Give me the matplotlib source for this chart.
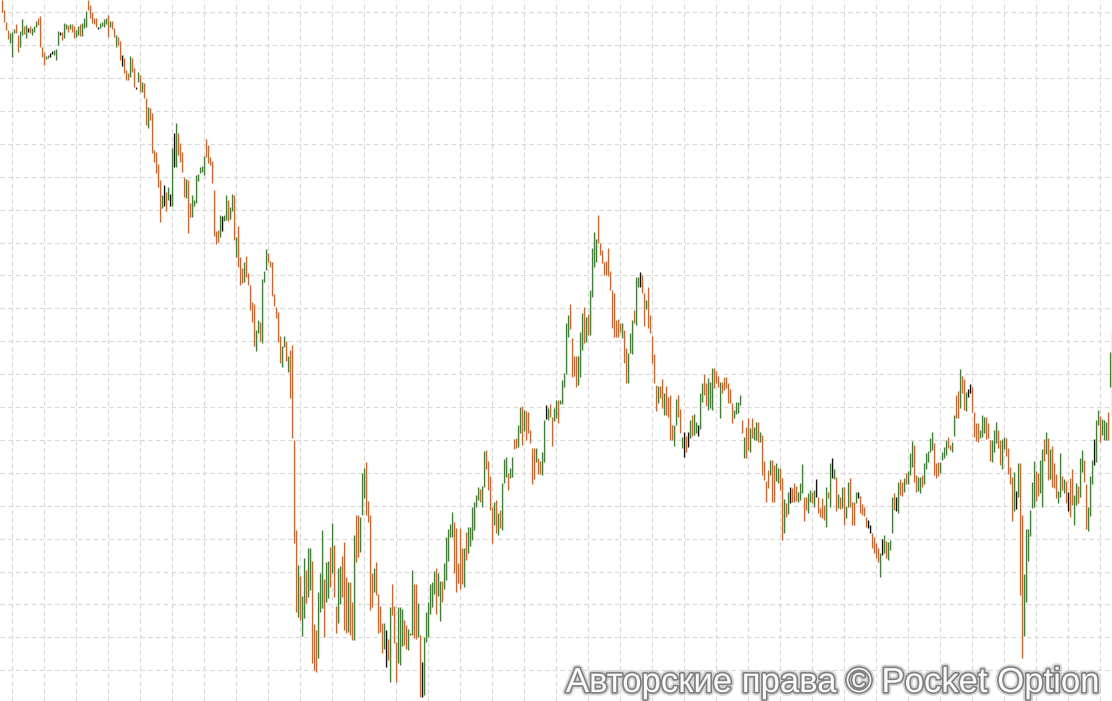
import matplotlib
matplotlib.use("Agg")
import matplotlib.pyplot as plt
import matplotlib.patheffects as pe
import numpy as np

# price levels (arbitrary points, higher = higher price)
# direction per bar: u = close above open, d = close below open, n = unchanged
highs_a = [700,690,678,670,667,668,671,676,665,669, 681,674,675,672,674,672,674,679,682,684,
           653,648,644,645,647,649,650,651,669,668, 668,677,676,675,676,676,674,670,674,676,
           677,682,689,700,695,688,682,682,673,677, 678,681,682,685,679,679,672,665,663,659,
           645,642,630,627,644,642,632,613,628,625, 618,617,602,593,592,587]
lows_a = [688,678,670,661,657,643,667,667,648,653, 665,666,662,668,667,665,668,673,675,653,
          643,635,641,642,643,646,645,640,655,665, 660,662,671,668,671,668,662,663,665,664,
          664,672,673,690,682,677,676,673,671,672, 674,673,676,663,673,671,663,653,655,640,
          634,627,620,620,623,628,613,611,618,608, 608,602,575,572,580,547]
dirs_a = "dddduuuddu" "udunduuudd" "dduunnuuun" "duududduud" "uuudddddnu" "uuududdudd" "nddduddnud" "uddudd"

highs_b = [550,548,536,520,505,515,508,513,506,552, 567,577,567,557,548,523,521,520,497,505,
           500,525,526,533,534,544,561,555,543,539, 510,469,470,485,484,485,505,500,493,506,
           505,463,474,443,432,438,444,427,415,398, 396,370,380,378,421,429,451,447,439,438,
           406,393,388,364,354,364,359,344,350,355]
lows_b = [538,527,513,478,492,494,489,500,494,494, 533,533,545,538,528,503,502,467,483,483,
          494,497,519,527,528,525,543,537,535,517, 464,456,458,463,469,479,480,479,481,489,
          460,443,433,415,417,418,423,415,390,378, 354,349,367,359,357,418,430,438,433,404,
          394,382,358,337,333,353,339,328,302,262]
dirs_b = "ddddundunu" "nudddduddu" "uuuuuudddd" "dddunuuduu" "dudddudddd" "duuduuuddd" "dddduududd"

highs_c = [260,170,135,124,104,142,130,152,152,139, 76,70,108,127,170,121,138,139,153,177,
           155,94,132,134,144,158,123,118,118,98, 165,185,185,183,227,232,238,199,185,127,
           132,138,106,94,77,77,70,61,93,116, 94,58,93,93,91,80,75,71,67,130,
           116,116,97,65,38,63,88,98,116,118, 129,132,127,119,119,137,163,171,176,188,
           178,172,137,172,152,152,168,173,173,193, 198,205,213]
lows_c = [157,88,83,80,64,82,97,103,110,37, 30,28,42,88,92,63,98,102,113,127,
          103,67,77,96,103,70,67,68,65,60, 60,138,143,148,185,202,185,178,90,93,
          108,105,67,68,47,51,33,40,18,85, 57,18,37,35,54,55,51,50,65,65,
          62,61,63,3,3,5,58,63,86,93, 106,86,104,79,98,111,120,139,163,163,
          127,108,117,111,116,113,140,147,154,160, 170,193,200]
dirs_c = "dduduuduud" "dduuuduudu" "dduudddudd" "udduuudddd" "uddddundud" "dduuudduuu" "ddudnuuuuu" "uduuduuuuu" "ddddduduuu" "uuu"

highs_d = [211,214,249,250,239,224,193,198,200,187, 190,217,241,243,227,232,243,261,262,275,
           293,294,290,289,288,270,252,252,252,242, 239,248,280,295,292,296,283,292,300,300,
           300,320,327,377,385,396,362,344,344,344, 368,387,393,383,386,410,452,468,461,485,
           457,450,438,439,452,429,410,407,380,381, 377,377,370,352,347,367,380,390,423,423,
           428,425,407,400,413,385,364,346,315,314]
lows_d = [198,193,213,231,210,190,157,175,167,165, 172,170,217,223,210,222,223,251,252,253,
          267,255,269,260,267,257,216,221,238,226, 226,225,238,281,280,283,254,279,282,277,
          296,296,313,326,363,371,323,324,313,315, 323,350,357,358,365,365,403,433,438,457,
          445,437,425,425,424,410,372,363,363,363, 368,362,337,317,317,347,346,377,375,413,
          413,407,374,391,372,367,337,317,289,297]
dirs_d = "duuddddudu" "duuuduuddu" "ududddddud" "duunudduud" "uuuuuddddu" "uududuuuud" "dddddddddd" "dudduuuduu" "nddudddddu"

highs_e = [314,321,307,314,303,305,275,275,301,305, 291,263,268,264,268,280,285,286,278,275,
           307,317,326,317,322,318,332,332,329,324, 318,318,323,323,317,311,297,290,298,298,
           305,280,263,273,282,272,282,273,278,278, 268,265,239,219,230,240,240,235,237,232,
           232,222,201,197,208,213,212,217,214,208, 217,236,203,203,207,210,208,210,221,203,
           192,202,195,213,208,237,242,231,223,206, 203,213,213,194,218,222,198,198,208,208,
           204,196,193,183,180,175,167,163,157,152, 147,161,165,159,158,160,203,207,203,218]
lows_e = [302,292,285,285,283,260,260,254,275,283, 267,252,243,248,253,262,264,265,267,264,
          271,298,305,294,290,292,290,312,317,313, 282,307,310,312,297,297,277,282,286,287,
          295,267,242,242,250,248,262,260,260,258, 258,225,220,198,212,225,198,198,219,217,
          210,160,167,183,186,197,198,198,199,198, 200,207,179,190,187,198,197,193,203,187,
          183,182,180,173,202,193,222,221,189,192, 191,192,175,182,193,193,175,175,197,202,
          187,185,184,173,172,167,152,147,142,138, 123,145,147,142,140,150,167,190,189,187]
dirs_e = "ddudddduud" "dundnuduun" "uudduuuddd" "udddddduuu" "ududduduud" "uddddudduu" "ddudundddu" "uudduudund" "dddudunudu" "duduudddun" "ddddnndddd" "unuduuudnu"

highs_f = [221,218,222,227,229,247,259,255,225,223, 223,225,237,247,249,262,268,257,237,238,
           238,248,253,260,263,255,258,285,305,309, 331,324,321,308,311,316,313,288,277,277,
           270,285,283,283,277,260,260,270,278,270, 260,261,263,262,252,233,223,228,209,237,
           237,185,126,171,171,190,218,239,229,227, 240,251,261,268,262,251,254,237,226,209,
           247,224,221,219,208,222,231,205,217,214, 242,250,240,216,193,224,240,261,280,290,
           284,281,280,278,288,348,367]
lows_f = [205,204,208,216,216,225,233,218,208,209, 207,213,216,231,238,248,250,225,222,224,
          227,240,242,245,252,250,248,264,282,282, 292,307,290,289,303,307,288,263,259,258,
          262,263,267,261,262,239,238,248,257,252, 235,231,251,244,226,216,179,189,191,203,
          105,42,64,98,139,164,192,193,199,204, 207,193,239,246,220,221,213,212,202,197,
          203,210,207,197,189,183,195,175,195,197, 203,228,218,171,169,184,216,235,238,275,
          258,265,260,260,260,313,287]
dirs_f = "dduduuuddu" "uduuuuuddd" "uuuudduudd" "uddunndddd" "uuuddduuud" "duuddddunu" "dduuuuuudd" "uudududddu" "ududndduud" "uudduuunuu" "duuudud"

highs = np.array(highs_a + highs_b + highs_c + highs_d + highs_e + highs_f, dtype=float)
lows = np.array(lows_a + lows_b + lows_c + lows_d + lows_e + lows_f, dtype=float)
dirs = dirs_a + dirs_b + dirs_c + dirs_d + dirs_e + dirs_f
n = min(len(highs), len(lows), len(dirs))
highs, lows, dirs = highs[:n], lows[:n], dirs[:n]
idx = np.arange(n)

palette = {"u": "#36892a", "d": "#e0601c", "n": "#111111"}
halo = {"u": "#dcefd4", "d": "#fde6cc", "n": "#dddddd"}
colors = [palette[c] for c in dirs]
halos = [halo[c] for c in dirs]

fig = plt.figure(figsize=(11.12, 7.01), dpi=100)
ax = fig.add_axes([0, 0, 1, 1])
ax.set_xlim(-0.85, 555.15)
ax.set_ylim(-1, 700)

# dashed grid
for gx in np.arange(5.3, 556, 16):
    ax.axvline(gx, color="#d8d8d8", lw=0.8, ls=(0, (4, 3)), zorder=0)
for gy in np.arange(687.7, 0, -32.9):
    ax.axhline(gy, color="#d8d8d8", lw=0.8, ls=(0, (4, 3)), zorder=0)

ax.vlines(idx + 0.5, lows, highs, colors=halos, linewidth=0.9, zorder=1)
ax.vlines(idx, lows, highs, colors=colors, linewidth=0.9, zorder=2)

ax.set_xticks([])
ax.set_yticks([])
for s in ax.spines.values():
    s.set_visible(False)

ax.text(0.989, 0.0128, "Авторские права © Pocket Option", transform=ax.transAxes,
        ha="right", va="baseline", fontsize=25, family=["Liberation Sans", "DejaVu Sans"],
        color="#fbfbfb", zorder=5,
        path_effects=[pe.Stroke(linewidth=5, foreground="#d6d6d6"),
                      pe.Stroke(linewidth=2.4, foreground="#7f7f7f"),
                      pe.Normal()])

fig.savefig("out.png", dpi=100)
